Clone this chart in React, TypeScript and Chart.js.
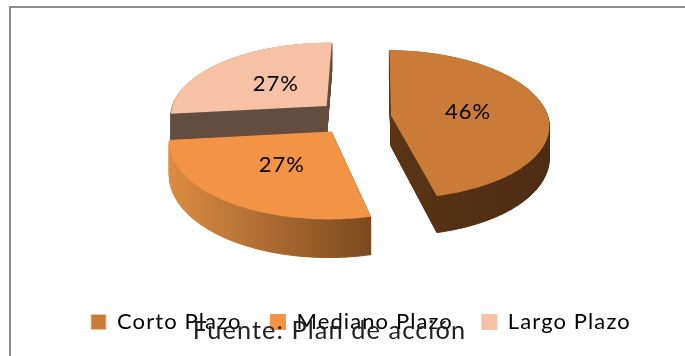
import React, { useEffect, useRef } from "react";
import { Chart, registerables } from "chart.js";

Chart.register(...registerables);

const categories = ["Corto Plazo", "Mediano Plazo", "Largo Plazo"];
const shares = [46, 27, 27];
const topColors = ["#c97b37", "#f39345", "#f6c1a5"];
const sourceNote = "Fuente: Plan de acción";

// Side wall shading of each slice, as [left colour, right colour].
const wallColors = [
  ["#5a3415", "#4e2c13"],
  ["#dc8c42", "#7a4a20"],
  ["#634d3f", "#634d3f"],
];
const labelRadii = [0.5, 0.5, 0.47];

// Tilted-disc projection of a point given in flat pie pixels around the centre.
const SQUASH = 0.46;
const PERSPECTIVE_Y = 0.12;
const PERSPECTIVE_X = 0.12;

function project(cx: number, cy: number, R: number, X: number, Y: number) {
  const y = Y / R;
  return {
    x: cx + X / (1 - PERSPECTIVE_X * (y - 0.15)),
    y: cy + (SQUASH * Y) / (1 - PERSPECTIVE_Y * y),
    depth: Math.max(28, 31 + 6 * y),
  };
}

const tiltedPie = {
  id: "tiltedPie",
  beforeLayout(chart: any) {
    // Legend and note text are set slightly loose.
    chart.ctx.letterSpacing = "1.1px";
  },
  beforeDatasetsDraw(chart: any) {
    const ctx: CanvasRenderingContext2D = chart.ctx;
    const arcs = chart.getDatasetMeta(0).data as any[];

    const slices = arcs.map((arc, i) => {
      const R = arc.outerRadius;
      const mid = (arc.startAngle + arc.endAngle) / 2;
      const ox = Math.cos(mid) * arc.options.offset;
      const oy = Math.sin(mid) * arc.options.offset;
      const outline = [project(arc.x, arc.y, R, ox, oy)];
      const steps = 90;
      for (let s = 0; s <= steps; s++) {
        const a = arc.startAngle + ((arc.endAngle - arc.startAngle) * s) / steps;
        outline.push(project(arc.x, arc.y, R, ox + Math.cos(a) * R, oy + Math.sin(a) * R));
      }
      return { i, arc, R, mid, ox, oy, outline };
    });

    const trace = (outline: any[], t: number) => {
      ctx.beginPath();
      outline.forEach((p, k) => {
        const py = p.y + t * p.depth;
        if (k === 0) ctx.moveTo(p.x, py);
        else ctx.lineTo(p.x, py);
      });
      ctx.closePath();
    };

    // Paint from the back of the disc towards the viewer.
    [...slices]
      .sort((a, b) => a.oy - b.oy)
      .forEach(({ i, outline }) => {
        const xs = outline.map((p) => p.x);
        const wall = ctx.createLinearGradient(Math.min(...xs), 0, Math.max(...xs), 0);
        wall.addColorStop(0, wallColors[i][0]);
        wall.addColorStop(1, wallColors[i][1]);
        ctx.fillStyle = wall;
        ctx.strokeStyle = wall;
        ctx.lineWidth = 1;
        for (let layer = 40; layer > 0; layer--) {
          trace(outline, layer / 40);
          ctx.fill();
          ctx.stroke();
        }
        ctx.fillStyle = topColors[i];
        trace(outline, 0);
        ctx.fill();
      });

    ctx.save();
    ctx.fillStyle = "#000";
    ctx.font = "22px Lato";
    (ctx as any).letterSpacing = "1px";
    ctx.textAlign = "center";
    ctx.textBaseline = "middle";
    slices.forEach(({ i, arc, R, mid, ox, oy }) => {
      const p = project(
        arc.x,
        arc.y,
        R,
        ox + Math.cos(mid) * R * labelRadii[i],
        oy + Math.sin(mid) * R * labelRadii[i]
      );
      ctx.fillText(`${shares[i]}%`, p.x, p.y);
    });
    ctx.restore();
    return false;
  },
  afterLayout(chart: any) {
    // The source note sits right on top of the legend row.
    const legend = chart.legend;
    const legendHeight = legend.bottom - legend.top;
    legend.left = 62;
    legend.right = 685;
    legend.top = 282;
    legend.bottom = 282 + legendHeight;
    const note = chart.titleBlock;
    const noteHeight = note.bottom - note.top;
    note.left = 0;
    note.right = 659;
    note.top = 316;
    note.bottom = 316 + noteHeight;
  },
};

export default function App() {
  const ref = useRef<HTMLCanvasElement>(null);

  useEffect(() => {
    const chart = new Chart(ref.current!, {
      type: "pie",
      data: {
        labels: categories,
        datasets: [
          {
            data: shares,
            backgroundColor: topColors,
            borderColor: ["#f3c19f", topColors[1], topColors[2]],
            borderWidth: 1,
            offset: [39, 37, 37],
          },
        ],
      },
      options: {
        responsive: false,
        animation: false,
        rotation: 1,
        radius: 160,
        layout: { padding: { left: 21, right: 0, top: 0, bottom: 30 } },
        plugins: {
          tooltip: { enabled: false },
          legend: {
            position: "bottom",
            align: "start",
            labels: {
              boxWidth: 15,
              boxHeight: 15,
              padding: 29,
              color: "#000",
              font: { family: "Lato", size: 22 },
            },
          },
          title: {
            display: true,
            position: "bottom",
            text: sourceNote,
            color: "#222",
            padding: 0,
            font: { family: "Lato", size: 25.3, weight: "normal" },
          },
        },
      },
      plugins: [tiltedPie],
    } as any);
    return () => chart.destroy();
  }, []);

  return (
    <div style={{ position: "absolute", left: 0, top: 0, width: 685, height: 356 }}>
      <div
        style={{
          position: "absolute",
          left: 9,
          top: 6,
          right: 0,
          bottom: 0,
          borderTop: "2px solid #8e8e8e",
          borderLeft: "2px solid #8e8e8e",
        }}
      />
      <canvas ref={ref} width={685} height={356} style={{ position: "absolute", left: 0, top: 0 }} />
    </div>
  );
}
